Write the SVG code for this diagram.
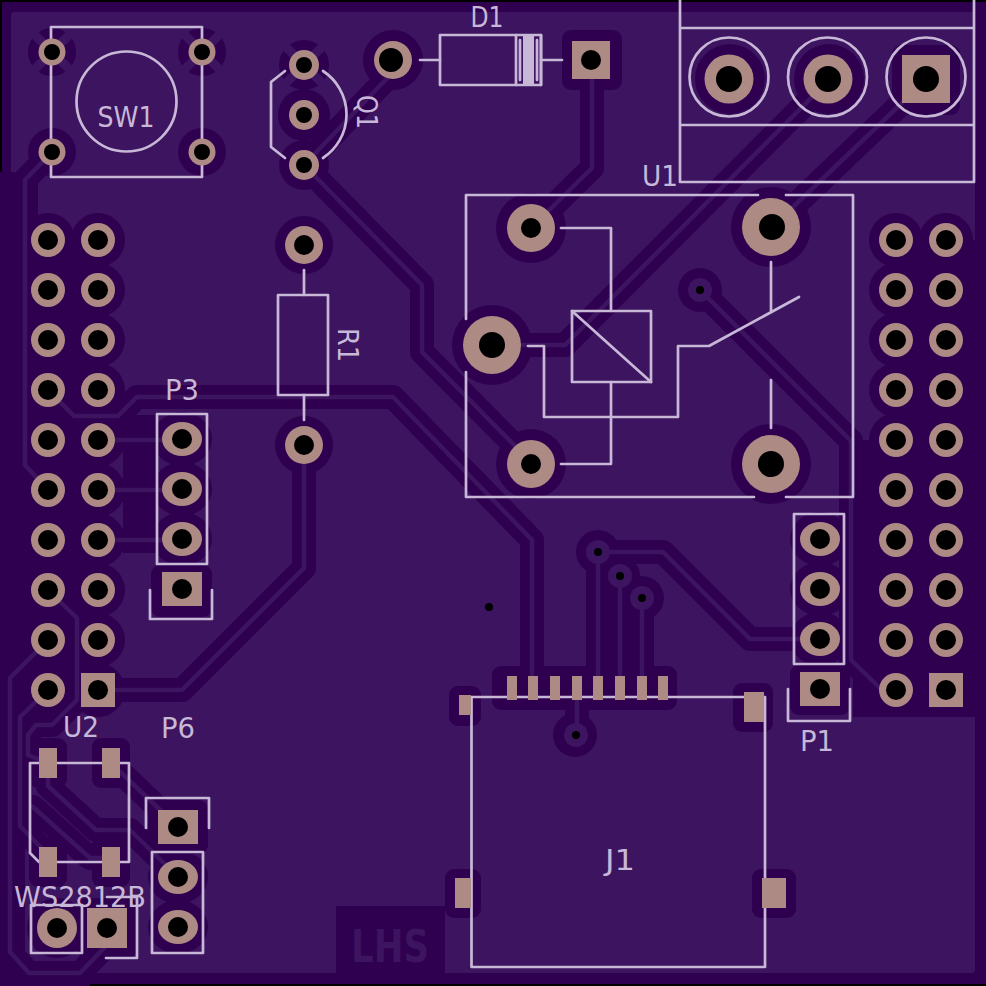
<svg xmlns="http://www.w3.org/2000/svg" xmlns:xlink="http://www.w3.org/1999/xlink" width="986" height="986" viewBox="0 0 986 986">
<style>
.s{fill:none;stroke:#c8b8d8;stroke-width:2.7;stroke-linejoin:round;stroke-linecap:round}
.p{fill:#ae8a84}
.h{fill:#000}
.d{fill:#2f004f}
.clr{fill:none;stroke:#2f004f;stroke-width:24;stroke-linejoin:round;stroke-linecap:round}
.trk{fill:none;stroke:#3c145f;stroke-width:4.5;stroke-linejoin:round;stroke-linecap:round}
.spoke{stroke:#3c145f;stroke-width:9}
text{font-family:"DejaVu Sans",sans-serif;fill:#c8b8d8}
</style>
<defs>
<path id="t1" d="M592 60V168L531 228"/>
<path id="t2" d="M304 165L422 285V352L531 462"/>
<path id="t3" d="M48 390L74 416H118L137 397H393L532 540V688"/>
<path id="t4" d="M304 445V568L182 690H98"/>
<path id="t5" d="M393 60V72L304 165"/>
<path id="t6" d="M829 80L565 345H492"/>
<path id="t7" d="M926 80L771 228"/>
<path id="t8" d="M700 290L851 441V660L880 688H896"/>
<path id="t9" d="M598 552H663L750 639H820"/>
<path id="t10" d="M598 552V688"/>
<path id="t11" d="M620 576V688"/>
<path id="t12" d="M642 598V688"/>
<path id="t13" d="M577 688V735"/>
<path id="t14" d="M52 152L25 180V465L48 490"/>
<path id="t15" d="M48 640L10 678V952L29 973H80L107 945"/>
<path id="t16" d="M48 690L20 717V826L50 857"/>
<path id="t17" d="M48 590L77 618V700L52 725H36L28 735V755L48 763"/>
<path id="t18" d="M48 763V786L96 830H130L178 877"/>
<path id="t19" d="M111 763L178 827"/>
<path id="t20" d="M98 440H182"/>
<path id="t21" d="M98 490H182"/>
<path id="t22" d="M98 540H182"/>
<path id="t23" d="M33 807L90 858H111"/>
</defs>
<rect id="board-edge" width="986" height="986" fill="#000"/>
<rect id="board" x="2" y="2" width="984" height="982" fill="#2f004f"/>
<rect id="pour" x="11" y="12" width="964" height="961" rx="3" fill="#3c145f"/>
<g id="clearance">
<path class="d" d="M0 172H14L23 178H38V240H98V712H70L25 735V970H90V986H0Z"/>
<path class="d" d="M853 440H896V240H986V717H853Z"/>
<path class="d" d="M123 415H157V553H123Z"/>
<rect class="d" x="336" y="906" width="109" height="67"/>
<circle class="d" cx="896" cy="240" r="27"/><circle class="d" cx="946" cy="240" r="27"/><circle class="d" cx="896" cy="290" r="27"/><circle class="d" cx="896" cy="340" r="27"/><circle class="d" cx="896" cy="390" r="27"/><circle class="d" cx="896" cy="440" r="27"/><circle class="d" cx="896" cy="690" r="27"/><circle class="d" cx="946" cy="690" r="27"/>
<circle class="d" cx="48" cy="240" r="27"/><circle class="d" cx="98" cy="240" r="27"/><circle class="d" cx="98" cy="290" r="27"/><circle class="d" cx="98" cy="340" r="27"/><circle class="d" cx="98" cy="390" r="27"/><circle class="d" cx="98" cy="440" r="27"/><circle class="d" cx="98" cy="490" r="27"/><circle class="d" cx="98" cy="540" r="27"/><circle class="d" cx="98" cy="590" r="27"/><circle class="d" cx="98" cy="640" r="27"/><circle class="d" cx="98" cy="690" r="27"/><circle class="d" cx="48" cy="690" r="27"/>
<circle class="d" cx="52" cy="152" r="24"/><circle class="d" cx="202" cy="152" r="24"/>
<circle class="d" cx="52" cy="52" r="24"/><circle class="d" cx="202" cy="52" r="24"/>
<path class="spoke" d="M32 32L72 72M72 32L32 72M182 32L222 72M222 32L182 72"/>
<circle class="d" cx="304" cy="65" r="25"/>
<path class="spoke" d="M284 45L324 85M324 45L284 85"/>
<circle class="d" cx="304" cy="115" r="26"/><circle class="d" cx="304" cy="165" r="25"/>
<circle class="d" cx="304" cy="245" r="29"/><circle class="d" cx="304" cy="445" r="29"/>
<circle class="d" cx="393" cy="60" r="30"/>
<rect class="d" x="562" y="30" width="60" height="60" rx="9"/>
<circle class="d" cx="531" cy="228" r="35"/><circle class="d" cx="531" cy="464" r="35"/>
<circle class="d" cx="492" cy="345" r="40"/><circle class="d" cx="771" cy="227" r="40"/><circle class="d" cx="771" cy="464" r="40"/>
<circle class="d" cx="700" cy="290" r="22"/>
<circle class="d" cx="730" cy="79" r="35"/><circle class="d" cx="829" cy="79" r="35"/>
<rect class="d" x="892" y="45" width="68" height="70" rx="9"/>
<ellipse class="d" cx="182" cy="439" rx="30" ry="27"/><ellipse class="d" cx="182" cy="489" rx="30" ry="27"/><ellipse class="d" cx="182" cy="539" rx="30" ry="27"/>
<rect class="d" x="151" y="565" width="61" height="52" rx="9"/>
<ellipse class="d" cx="820" cy="539" rx="30" ry="27"/><ellipse class="d" cx="820" cy="589" rx="30" ry="27"/><ellipse class="d" cx="820" cy="639" rx="30" ry="27"/>
<rect class="d" x="790" y="665" width="60" height="50" rx="9"/>
<rect class="d" x="492" y="666" width="185" height="44" rx="9"/>
<rect class="d" x="449" y="686" width="32" height="40" rx="9"/><rect class="d" x="445" y="869" width="36" height="49" rx="9"/>
<rect class="d" x="733" y="683" width="40" height="49" rx="9"/><rect class="d" x="752" y="869" width="44" height="49" rx="9"/>
<circle class="d" cx="575" cy="735" r="22"/><circle class="d" cx="598" cy="552" r="22"/><circle class="d" cx="620" cy="576" r="20"/><circle class="d" cx="642" cy="598" r="22"/>
<rect class="d" x="29" y="738" width="38" height="50" rx="9"/><rect class="d" x="92" y="738" width="38" height="50" rx="9"/>
<rect class="d" x="29" y="837" width="38" height="50" rx="9"/><rect class="d" x="92" y="837" width="38" height="50" rx="9"/>
<rect class="d" x="148" y="800" width="60" height="54" rx="9"/><ellipse class="d" cx="178" cy="877" rx="30" ry="27"/><ellipse class="d" cx="178" cy="927" rx="30" ry="27"/>
<circle class="d" cx="57" cy="928" r="30"/><rect class="d" x="77" y="898" width="60" height="60" rx="9"/>
<use href="#t1" class="clr"/><use href="#t2" class="clr"/><use href="#t3" class="clr"/><use href="#t4" class="clr"/><use href="#t5" class="clr"/><use href="#t6" class="clr"/><use href="#t7" class="clr"/><use href="#t8" class="clr"/><use href="#t9" class="clr"/><use href="#t10" class="clr"/><use href="#t11" class="clr"/><use href="#t12" class="clr"/><use href="#t13" class="clr"/><use href="#t14" class="clr"/><use href="#t15" class="clr"/><use href="#t16" class="clr"/><use href="#t17" class="clr"/><use href="#t18" class="clr"/><use href="#t19" class="clr"/><use href="#t20" class="clr"/><use href="#t21" class="clr"/><use href="#t22" class="clr"/><use href="#t23" class="clr"/>
</g>
<g id="connectors">
<use href="#t1" class="trk"/><use href="#t2" class="trk"/><use href="#t3" class="trk"/><use href="#t4" class="trk"/><use href="#t5" class="trk"/><use href="#t6" class="trk"/><use href="#t7" class="trk"/><use href="#t8" class="trk"/><use href="#t9" class="trk"/><use href="#t10" class="trk"/><use href="#t11" class="trk"/><use href="#t12" class="trk"/><use href="#t13" class="trk"/><use href="#t14" class="trk"/><use href="#t15" class="trk"/><use href="#t16" class="trk"/><use href="#t17" class="trk"/><use href="#t18" class="trk"/><use href="#t19" class="trk"/><use href="#t20" class="trk"/><use href="#t21" class="trk"/><use href="#t22" class="trk"/><use href="#t23" class="trk"/>
</g>
<text x="390" y="962" text-anchor="middle" font-size="44" font-weight="700" textLength="78" lengthAdjust="spacingAndGlyphs" style="fill:#3c145f">LHS</text>
<g id="header-left">
<g class="p">
<circle cx="48" cy="240" r="17"/><circle cx="98" cy="240" r="17"/><circle cx="48" cy="290" r="17"/><circle cx="98" cy="290" r="17"/><circle cx="48" cy="340" r="17"/><circle cx="98" cy="340" r="17"/><circle cx="48" cy="390" r="17"/><circle cx="98" cy="390" r="17"/><circle cx="48" cy="440" r="17"/><circle cx="98" cy="440" r="17"/><circle cx="48" cy="490" r="17"/><circle cx="98" cy="490" r="17"/><circle cx="48" cy="540" r="17"/><circle cx="98" cy="540" r="17"/><circle cx="48" cy="590" r="17"/><circle cx="98" cy="590" r="17"/><circle cx="48" cy="640" r="17"/><circle cx="98" cy="640" r="17"/><circle cx="48" cy="690" r="17"/><rect x="81" y="673" width="34" height="34"/>
</g>
<g class="h">
<circle cx="48" cy="240" r="10"/><circle cx="98" cy="240" r="10"/><circle cx="48" cy="290" r="10"/><circle cx="98" cy="290" r="10"/><circle cx="48" cy="340" r="10"/><circle cx="98" cy="340" r="10"/><circle cx="48" cy="390" r="10"/><circle cx="98" cy="390" r="10"/><circle cx="48" cy="440" r="10"/><circle cx="98" cy="440" r="10"/><circle cx="48" cy="490" r="10"/><circle cx="98" cy="490" r="10"/><circle cx="48" cy="540" r="10"/><circle cx="98" cy="540" r="10"/><circle cx="48" cy="590" r="10"/><circle cx="98" cy="590" r="10"/><circle cx="48" cy="640" r="10"/><circle cx="98" cy="640" r="10"/><circle cx="48" cy="690" r="10"/><circle cx="98" cy="690" r="10"/>
</g>
</g>
<g id="header-right">
<g class="p">
<circle cx="896" cy="240" r="17"/><circle cx="946" cy="240" r="17"/><circle cx="896" cy="290" r="17"/><circle cx="946" cy="290" r="17"/><circle cx="896" cy="340" r="17"/><circle cx="946" cy="340" r="17"/><circle cx="896" cy="390" r="17"/><circle cx="946" cy="390" r="17"/><circle cx="896" cy="440" r="17"/><circle cx="946" cy="440" r="17"/><circle cx="896" cy="490" r="17"/><circle cx="946" cy="490" r="17"/><circle cx="896" cy="540" r="17"/><circle cx="946" cy="540" r="17"/><circle cx="896" cy="590" r="17"/><circle cx="946" cy="590" r="17"/><circle cx="896" cy="640" r="17"/><circle cx="946" cy="640" r="17"/><circle cx="896" cy="690" r="17"/><rect x="929" y="673" width="34" height="34"/>
</g>
<g class="h">
<circle cx="896" cy="240" r="10"/><circle cx="946" cy="240" r="10"/><circle cx="896" cy="290" r="10"/><circle cx="946" cy="290" r="10"/><circle cx="896" cy="340" r="10"/><circle cx="946" cy="340" r="10"/><circle cx="896" cy="390" r="10"/><circle cx="946" cy="390" r="10"/><circle cx="896" cy="440" r="10"/><circle cx="946" cy="440" r="10"/><circle cx="896" cy="490" r="10"/><circle cx="946" cy="490" r="10"/><circle cx="896" cy="540" r="10"/><circle cx="946" cy="540" r="10"/><circle cx="896" cy="590" r="10"/><circle cx="946" cy="590" r="10"/><circle cx="896" cy="640" r="10"/><circle cx="946" cy="640" r="10"/><circle cx="896" cy="690" r="10"/><circle cx="946" cy="690" r="10"/>
</g>
</g>
<g id="SW1">
<rect class="s" x="51" y="27" width="151" height="150"/>
<circle class="s" cx="126.500" cy="101.500" r="50"/>
<circle class="p" cx="52" cy="52" r="13.500"/><circle class="p" cx="202" cy="52" r="13.500"/><circle class="p" cx="52" cy="152" r="13.500"/><circle class="p" cx="202" cy="152" r="13.500"/>
<circle class="h" cx="52" cy="52" r="8"/><circle class="h" cx="202" cy="52" r="8"/><circle class="h" cx="52" cy="152" r="8"/><circle class="h" cx="202" cy="152" r="8"/>
<text x="126" y="127" text-anchor="middle" font-size="28" textLength="57" lengthAdjust="spacingAndGlyphs">SW1</text>
</g>
<g id="Q1">
<path class="s" d="M285 71L271 82V147L285 158M323 71A52 52 0 0 1 323 158"/>
<circle class="p" cx="304" cy="65" r="15"/><circle class="p" cx="304" cy="115" r="15"/><circle class="p" cx="304" cy="165" r="15"/>
<circle class="h" cx="304" cy="65" r="8"/><circle class="h" cx="304" cy="115" r="8"/><circle class="h" cx="304" cy="165" r="8"/>
<text transform="translate(357,112) rotate(90)" text-anchor="middle" font-size="28" textLength="34" lengthAdjust="spacingAndGlyphs">Q1</text>
</g>
<g id="R1">
<path class="s" d="M304 270V295M304 395V420"/>
<rect class="s" x="278" y="295" width="50" height="100"/>
<circle class="p" cx="304" cy="245" r="19"/><circle class="p" cx="304" cy="445" r="19"/>
<circle class="h" cx="304" cy="245" r="10"/><circle class="h" cx="304" cy="445" r="10"/>
<text transform="translate(338,345) rotate(90)" text-anchor="middle" font-size="28" textLength="34" lengthAdjust="spacingAndGlyphs">R1</text>
</g>
<g id="D1">
<path class="s" d="M420 60H440M541 60H562"/>
<rect class="s" x="440" y="35" width="101" height="50"/>
<rect x="523" y="35" width="11" height="50" fill="#c8b8d8"/>
<path class="s" d="M516 35V85M520 40V80M537 40V80M541 35V85"/>
<circle class="p" cx="393" cy="60" r="19"/>
<rect class="p" x="572" y="41" width="38" height="38"/>
<circle class="h" cx="391" cy="60" r="12"/><circle class="h" cx="591" cy="60" r="10"/>
<text x="487" y="27" text-anchor="middle" font-size="28" textLength="33" lengthAdjust="spacingAndGlyphs">D1</text>
</g>
<g id="terminal">
<path class="s" d="M680 0V182H974V0M680 28H974M680 125H974"/>
<circle class="s" cx="729" cy="77" r="39.500"/><circle class="s" cx="827.500" cy="77" r="39.500"/><circle class="s" cx="926" cy="77" r="39.500"/>
<circle class="p" cx="729" cy="79" r="24.500"/><circle class="p" cx="828" cy="79" r="24.500"/><rect class="p" x="902" y="55" width="48" height="48"/>
<circle class="h" cx="729" cy="79" r="13"/><circle class="h" cx="828" cy="79" r="13"/><circle class="h" cx="926" cy="79" r="13"/>
</g>
<g id="U1">
<path class="s" d="M466 319V195H758M786 195H853V497H786M754 497H466V372"/>
<rect class="s" x="572" y="311" width="79" height="71"/>
<path class="s" d="M572 311L651 382M561 228H611V311M611 382V464H561M528 346H544V417H678V346H709L799 297M771 262V312M771 380V428"/>
<circle class="p" cx="531" cy="228" r="24"/><circle class="p" cx="531" cy="464" r="24"/><circle class="p" cx="492" cy="345" r="29"/><circle class="p" cx="771" cy="227" r="29"/><circle class="p" cx="771" cy="464" r="29"/>
<circle class="h" cx="531" cy="228" r="10"/><circle class="h" cx="531" cy="464" r="10"/><circle class="h" cx="492" cy="345" r="13"/><circle class="h" cx="772" cy="227" r="13"/><circle class="h" cx="771" cy="464" r="13"/>
<circle cx="700" cy="290" r="12" fill="#3c145f"/><circle class="h" cx="700" cy="290" r="4"/>
<text x="660" y="186" text-anchor="middle" font-size="28" textLength="36" lengthAdjust="spacingAndGlyphs">U1</text>
</g>
<g id="P3">
<rect class="s" x="157" y="414" width="50" height="150"/>
<path class="s" d="M150 590V619H212V590"/>
<ellipse class="p" cx="182" cy="439" rx="20" ry="17"/><ellipse class="p" cx="182" cy="489" rx="20" ry="17"/><ellipse class="p" cx="182" cy="539" rx="20" ry="17"/><rect class="p" x="162" y="572" width="40" height="34"/>
<circle class="h" cx="182" cy="439" r="10"/><circle class="h" cx="182" cy="489" r="10"/><circle class="h" cx="182" cy="539" r="10"/><circle class="h" cx="182" cy="589" r="10"/>
<text x="182" y="400" text-anchor="middle" font-size="28" textLength="34" lengthAdjust="spacingAndGlyphs">P3</text>
</g>
<g id="P1">
<rect class="s" x="794" y="514" width="50" height="150"/>
<path class="s" d="M788 689V721H850V689"/>
<ellipse class="p" cx="820" cy="539" rx="20" ry="17"/><ellipse class="p" cx="820" cy="589" rx="20" ry="17"/><ellipse class="p" cx="820" cy="639" rx="20" ry="17"/><rect class="p" x="800" y="672" width="40" height="34"/>
<circle class="h" cx="820" cy="539" r="10"/><circle class="h" cx="820" cy="589" r="10"/><circle class="h" cx="820" cy="639" r="10"/><circle class="h" cx="820" cy="689" r="10"/>
<text x="817" y="751" text-anchor="middle" font-size="28" textLength="34" lengthAdjust="spacingAndGlyphs">P1</text>
</g>
<g id="P6">
<path class="s" d="M146 828V798H209V828"/>
<rect class="s" x="152" y="852" width="51" height="101"/>
<rect class="p" x="158" y="810" width="40" height="34"/><ellipse class="p" cx="178" cy="877" rx="20" ry="17"/><ellipse class="p" cx="178" cy="927" rx="20" ry="17"/>
<circle class="h" cx="178" cy="827" r="10"/><circle class="h" cx="178" cy="877" r="10"/><circle class="h" cx="178" cy="927" r="10"/>
<text x="178" y="738" text-anchor="middle" font-size="28" textLength="34" lengthAdjust="spacingAndGlyphs">P6</text>
</g>
<g id="U2">
<path class="s" d="M30 763H129V862H39L30 853Z"/>
<g class="p"><rect x="39" y="748" width="18" height="30"/><rect x="102" y="748" width="18" height="30"/><rect x="39" y="847" width="18" height="30"/><rect x="102" y="847" width="18" height="30"/></g>
<text x="81" y="737" text-anchor="middle" font-size="28" textLength="36" lengthAdjust="spacingAndGlyphs">U2</text>
</g>
<g id="JP-bottom">
<rect class="s" x="31" y="905" width="51" height="48"/>
<path class="s" d="M107 897H137V958H106"/>
<circle class="p" cx="57" cy="928" r="20"/><rect class="p" x="87" y="908" width="40" height="40"/>
<circle class="h" cx="57" cy="928" r="10"/><circle class="h" cx="107" cy="928" r="10"/>
<text x="80" y="907" text-anchor="middle" font-size="28" textLength="132" lengthAdjust="spacingAndGlyphs">WS2812B</text>
</g>
<g id="J1">
<rect class="s" x="471.500" y="697" width="293.500" height="270"/>
<g class="p"><rect x="507" y="676" width="10" height="24"/><rect x="528" y="676" width="10" height="24"/><rect x="550" y="676" width="10" height="24"/><rect x="572" y="676" width="10" height="24"/><rect x="593" y="676" width="10" height="24"/><rect x="615" y="676" width="10" height="24"/><rect x="637" y="676" width="10" height="24"/><rect x="658" y="676" width="10" height="24"/>
<rect x="459" y="695" width="12" height="20"/><rect x="455" y="878" width="16" height="30"/><rect x="744" y="692" width="20" height="30"/><rect x="762" y="878" width="24" height="30"/></g>
<text x="620" y="870" text-anchor="middle" font-size="28" textLength="30" lengthAdjust="spacingAndGlyphs">J1</text>
</g>
<g id="vias">
<g fill="#3c145f"><circle cx="598" cy="552" r="12"/><circle cx="620" cy="576" r="12"/><circle cx="642" cy="598" r="12"/><circle cx="576" cy="735" r="12"/></g>
<g class="h"><circle cx="598" cy="552" r="4"/><circle cx="620" cy="576" r="4"/><circle cx="642" cy="598" r="4"/><circle cx="576" cy="735" r="4"/><circle cx="489" cy="607" r="4"/></g>
</g>
</svg>
